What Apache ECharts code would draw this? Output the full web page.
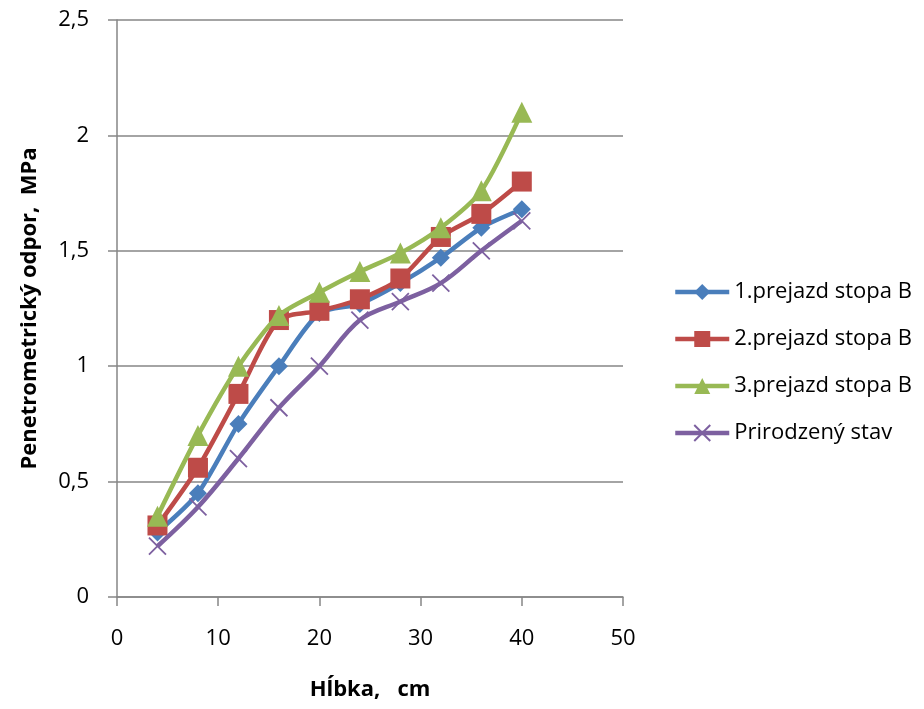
<!DOCTYPE html>
<html><head><meta charset="utf-8">
<script src="https://cdn.jsdelivr.net/npm/echarts@6/dist/echarts.min.js"></script>
<style>html,body{margin:0;padding:0;background:#fff}#c{width:924px;height:709px}</style>
</head><body><div id="c"></div>
<script>
const depth = [4, 8, 12, 16, 20, 24, 28, 32, 36, 40];
const pass1 = [0.28, 0.45, 0.75, 1.0, 1.23, 1.27, 1.36, 1.47, 1.6, 1.68];
const pass2 = [0.31, 0.56, 0.88, 1.2, 1.24, 1.29, 1.38, 1.56, 1.66, 1.8];
const pass3 = [0.35, 0.7, 1.0, 1.22, 1.32, 1.41, 1.49, 1.6, 1.76, 2.1];
const natural = [0.22, 0.39, 0.6, 0.82, 1.0, 1.2, 1.28, 1.36, 1.5, 1.63];
const seriesNames = ['1.prejazd stopa B', '2.prejazd stopa B', '3.prejazd stopa B', 'Prirodzený stav'];
const xTitle = 'Hĺbka,   cm';
const yTitle = 'Penetrometrický odpor,  MPa';

const FONT = 'Open Sans';
const colors = ['#4A7EBB', '#BE4B48', '#98B954', '#7D60A0'];
const pair = arr => depth.map((d, i) => [d, arr[i]]);
const mk = (name, arr, idx, symbol, size, extra) => Object.assign({
  name, type: 'line', data: pair(arr), smooth: 0.25,
  symbol, symbolSize: size,
  lineStyle: { width: 4.5, color: colors[idx] },
  itemStyle: { color: colors[idx] },
  z: 2 + idx
}, extra || {});

const chart = echarts.init(document.getElementById('c'));
chart.setOption({
  animation: false,
  backgroundColor: '#fff',
  color: colors,
  grid: { left: 117, top: 20, width: 506, height: 577 },
  xAxis: {
    type: 'value', min: 0, max: 50, interval: 10,
    name: xTitle, nameLocation: 'middle', nameGap: 82,
    nameTextStyle: { fontFamily: FONT, fontSize: 22, fontWeight: 'bold', color: '#000' },
    axisLine: { onZero: false, lineStyle: { color: '#868686', width: 1.5 } },
    axisTick: { show: true, length: 9, lineStyle: { color: '#868686', width: 1.5 } },
    axisLabel: { fontFamily: FONT, fontSize: 22, color: '#000', margin: 31 },
    splitLine: { show: false }
  },
  yAxis: {
    type: 'value', min: 0, max: 2.5, interval: 0.5,
    name: yTitle, nameLocation: 'middle', nameGap: 76, nameRotate: 90,
    nameTextStyle: { fontFamily: FONT, fontSize: 22, fontWeight: 'bold', color: '#000' },
    axisLine: { show: true, lineStyle: { color: '#868686', width: 1.5 } },
    axisTick: { show: true, length: 9, lineStyle: { color: '#868686', width: 1.5 } },
    axisLabel: { fontFamily: FONT, fontSize: 22, color: '#000', margin: 28,
      formatter: v => String(v).replace('.', ',') },
    splitLine: { show: true, lineStyle: { color: '#868686', width: 1.5 } }
  },
  legend: {
    orient: 'vertical', left: 668, top: 276, itemGap: 25,
    itemWidth: 54, itemHeight: 20,
    lineStyle: { width: 4.5 },
    textStyle: { fontFamily: FONT, fontSize: 22, color: '#000' },
    data: seriesNames
  },
  series: [
    mk(seriesNames[0], pass1, 0, 'diamond', 18),
    mk(seriesNames[1], pass2, 1, 'rect', 20),
    mk(seriesNames[2], pass3, 2, 'triangle', 21),
    mk(seriesNames[3], natural, 3, 'path://M0,0L10,10M10,0L0,10', 17, {
      itemStyle: { color: 'none', borderColor: colors[3], borderWidth: 1.8 }, smooth: 0.35
    })
  ]
});
</script>
</body></html>
